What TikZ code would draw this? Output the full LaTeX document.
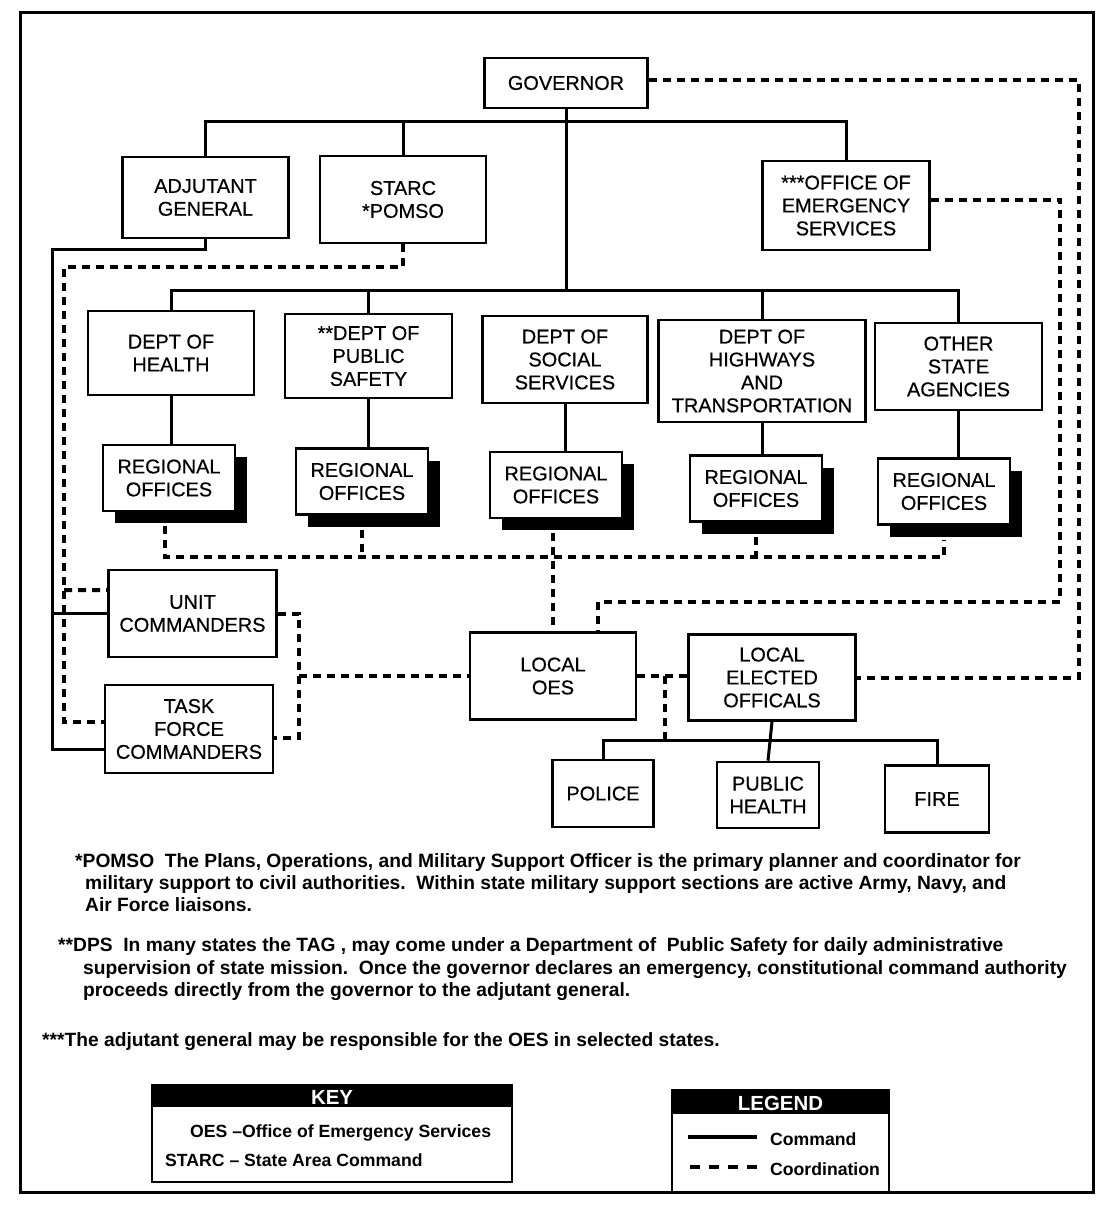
\documentclass[tikz,border=0pt]{standalone}
\usepackage{fontspec}
\setmainfont{Liberation Sans}
\newfontfamily\boxfont{Liberation Sans}[UprightFeatures={FakeBold=0.5}]
\usetikzlibrary{shadows}
\begin{document}
\begin{tikzpicture}[x=1bp,y=-1bp,
 box/.style={draw, line width=2.6bp, fill=white, inner sep=0pt, align=center, font=\boxfont\fontsize{20}{23}\selectfont},
 regbox/.style={box, minimum width=132bp, minimum height=66bp, drop shadow={shadow xshift=12bp, shadow yshift=-12bp, fill=black, opacity=1}},
 cmd/.style={line width=3bp},
 coord/.style={line width=4bp, dash pattern=on 8bp off 6bp},
 note/.style={anchor=base west, inner sep=0pt, font=\fontsize{19.3}{22}\selectfont\bfseries},
 keytext/.style={anchor=base west, inner sep=0pt, font=\fontsize{17.7}{20}\selectfont\bfseries},
 headtext/.style={text=white, inner sep=0pt, font=\fontsize{20.5}{20}\selectfont\bfseries},
 frame/.style={draw, line width=2.6bp, inner sep=0pt}]
\useasboundingbox (0,0) rectangle (1103,1205);
\draw[line width=3bp] (20,12) rectangle (1093,1192);

% top level
\node[box, minimum width=163bp, minimum height=50bp] (gov) at (566,83) {GOVERNOR};
\node[box, minimum width=166bp, minimum height=81bp] (ag) at (205.5,197.5) {ADJUTANT\\GENERAL};
\node[box, minimum width=166bp, minimum height=87bp] (starc) at (403,199.5) {STARC\\*POMSO};
\node[box, minimum width=167bp, minimum height=89bp] (oes) at (846,205.5) {***OFFICE OF\\EMERGENCY\\SERVICES};

% departments
\node[box, minimum width=166bp, minimum height=84bp] (health) at (171,353) {DEPT OF\\HEALTH};
\node[box, minimum width=167bp, minimum height=84bp] (dps) at (368.5,356) {**DEPT OF\\PUBLIC\\SAFETY};
\node[box, minimum width=165bp, minimum height=87bp] (social) at (565,359.5) {DEPT OF\\SOCIAL\\SERVICES};
\node[box, minimum width=207bp, minimum height=102bp] (highways) at (762,371) {DEPT OF\\HIGHWAYS\\AND\\TRANSPORTATION};
\node[box, minimum width=167bp, minimum height=87bp] (other) at (958.5,366.5) {OTHER\\STATE\\AGENCIES};

% regional offices
\node[regbox] (reg1) at (169,478) {REGIONAL\\OFFICES};
\node[regbox] (reg2) at (362,481.5) {REGIONAL\\OFFICES};
\node[regbox] (reg3) at (556,485) {REGIONAL\\OFFICES};
\node[regbox] (reg4) at (756,488.5) {REGIONAL\\OFFICES};
\node[regbox] (reg5) at (944,491.5) {REGIONAL\\OFFICES};

% commanders
\node[box, minimum width=168bp, minimum height=87bp] (uc) at (192.5,613.5) {UNIT\\COMMANDERS};
\node[box, minimum width=168bp, minimum height=88bp] (tfc) at (189,729) {TASK\\FORCE\\COMMANDERS};

% local
\node[box, minimum width=166bp, minimum height=87bp] (loes) at (553,676) {LOCAL\\OES};
\node[box, minimum width=167bp, minimum height=86bp] (leo) at (772,677.5) {LOCAL\\ELECTED\\OFFICALS};
\node[box, minimum width=101bp, minimum height=67bp] (police) at (603,793.5) {POLICE};
\node[box, minimum width=102bp, minimum height=66bp] (ph) at (768,795) {PUBLIC\\HEALTH};
\node[box, minimum width=104bp, minimum height=67bp] (fire) at (937,799) {FIRE};

% bus coordinates
\coordinate (bus1) at (0,121);
\coordinate (bus2) at (0,290);
\coordinate (rbus) at (0,557);
\coordinate (pbus) at (0,740);
\coordinate (lc) at (52,249);
\coordinate (ld) at (64,267);
\coordinate (rb) at (299,613.5);
\coordinate (oesr) at (1060,602);
\coordinate (govr) at (1079,677.5);
\coordinate (mid) at (665,676);

% command lines
\begin{scope}[cmd]
\draw (gov.south) -- (gov.south |- bus2);
\draw (ag.north) |- (bus1 -| oes.north) -- (oes.north);
\draw (starc.north) -- (starc.north |- bus1);
\draw (health.north) |- (bus2 -| other.north) -- (other.north);
\draw (dps.north) -- (dps.north |- bus2);
\draw (highways.north) -- (highways.north |- bus2);
\draw (health.south) -- (health.south |- reg1.north);
\draw (dps.south) -- (dps.south |- reg2.north);
\draw (social.south) -- (social.south |- reg3.north);
\draw (highways.south) -- (highways.south |- reg4.north);
\draw (other.south) -- (other.south |- reg5.north);
\draw (ag.south) |- (lc) |- ([yshift=-20bp]tfc.west);
\draw (lc |- uc.west) -- (uc.west);
\draw (leo.south) -- (ph.north);
\draw (police.north) |- (pbus -| fire.north) -- (fire.north);
\end{scope}

% coordination lines
\begin{scope}[coord]
\draw (starc.south) |- (ld) |- ([yshift=7bp]tfc.west);
\draw (ld |- 0,590) -- ([yshift=23.5bp]uc.west);
\draw (uc.east) -- (rb) |- ([yshift=-9bp]tfc.east);
\draw (rb |- loes.west) -- (loes.west);
\draw ([xshift=-4bp,yshift=-14bp]reg1.south) |- (rbus -| reg5.south) -- ([yshift=-14bp]reg5.south);
\draw ([yshift=-14bp]reg2.south) -- (reg2.south |- rbus);
\draw ([yshift=-14bp]reg4.south) -- (reg4.south |- rbus);
\draw ([xshift=-3bp,yshift=-14bp]reg3.south) -- ([xshift=-3bp]reg3.south |- loes.north);
\draw ([yshift=6bp]oes.east) -| (oesr) -| ([xshift=45bp]loes.north);
\draw ([yshift=3bp]gov.east) -| (govr) -- (leo.east);
\draw (loes.east) -- (loes.east -| leo.west);
\draw (mid) -- (mid |- pbus);
\end{scope}

% footnotes
\node[note] (n1) at (75,867) {*POMSO\ \ The Plans, Operations, and Military Support Officer is the primary planner and coordinator for};
\node[note] (n2) at (85,889) {military support to civil authorities.\ \ Within state military support sections are active Army, Navy, and};
\node[note] (n3) at (85,911) {Air Force liaisons.};
\node[note] (n4) at (58,951) {**DPS\ \ In many states the TAG , may come under a Department of\ \ Public Safety for daily administrative};
\node[note] (n5) at (83,974) {supervision of state mission.\ \ Once the governor declares an emergency, constitutional command authority};
\node[note] (n6) at (83,996) {proceeds directly from the governor to the adjutant general.};
\node[note] (n7) at (42,1046) {***The adjutant general may be responsible for the OES in selected states.};

% key
\node[frame, minimum width=360bp, minimum height=97bp] (key) at (332,1133.5) {};
\fill (key.north west) rectangle ([yshift=-23bp]key.north east);
\node[headtext] (keyt) at (332,1097) {KEY};
\node[keytext] (k1) at (190,1137) {OES --Office of Emergency Services};
\node[keytext] (k2) at (165,1166) {STARC -- State Area Command};

% legend
\node[frame, minimum width=217bp, minimum height=102bp] (leg) at (780.5,1141) {};
\fill (leg.north west) rectangle ([yshift=-25bp]leg.north east);
\node[headtext] (legt) at (780.5,1103) {LEGEND};
\coordinate (ls1) at (688,1137);
\coordinate (le1) at (757,1137);
\coordinate (ls2) at (690,1167);
\coordinate (le2) at (757,1167);
\draw[line width=4bp] (ls1) -- (le1);
\draw[line width=4.5bp, dash pattern=on 10bp off 9bp] (ls2) -- (le2);
\node[keytext] (l1) at (770,1145) {Command};
\node[keytext] (l2) at (770,1175) {Coordination};
\end{tikzpicture}
\end{document}
